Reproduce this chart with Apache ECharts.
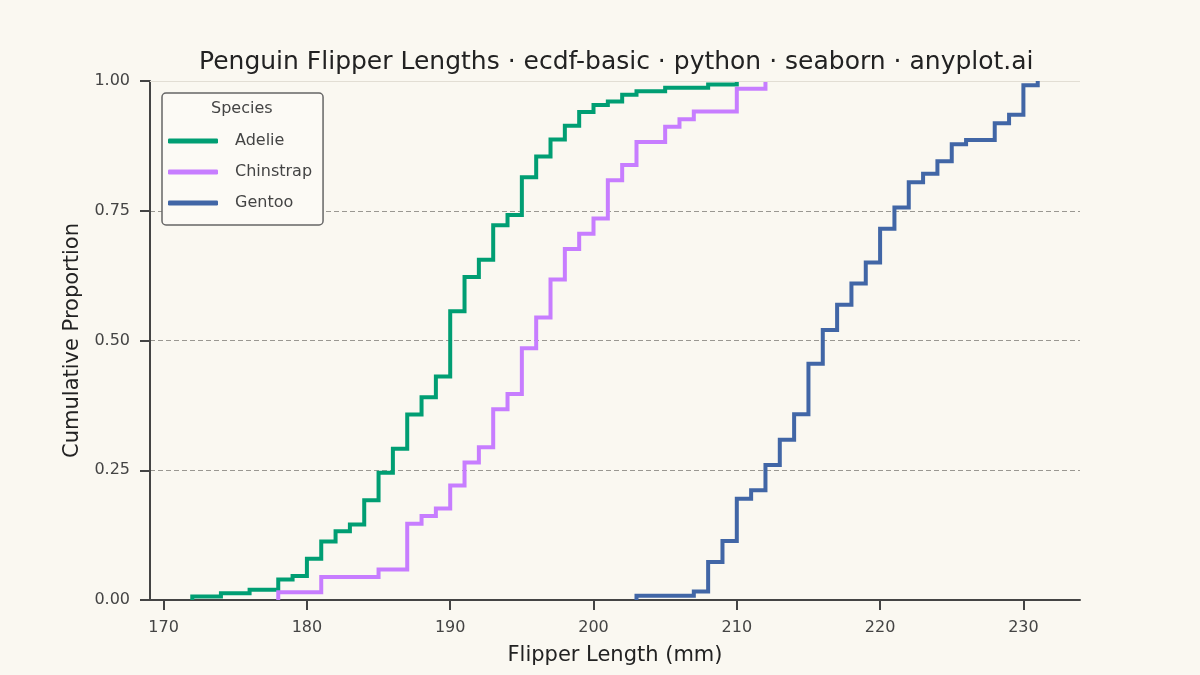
<!DOCTYPE html>
<html>
<head>
<meta charset="utf-8">
<script src="https://cdn.jsdelivr.net/npm/echarts@6/dist/echarts.min.js"></script>
<style>
html,body{margin:0;padding:0;background:#faf8f1;}
#c{width:1200px;height:675px;}
</style>
</head>
<body>
<div id="c"></div>
<script>
// ECDF step points: flipper length (mm) and cumulative proportion
const adelieX = [172,174,176,178,179,180,181,182,183,184,185,186,187,188,189,190,191,192,193,194,195,196,197,198,199,200,201,202,203,205,208,210];
const adelieY = [0.0066,0.0132,0.0199,0.0397,0.0464,0.0795,0.1126,0.1325,0.1457,0.1921,0.2450,0.2914,0.3576,0.3907,0.4305,0.5563,0.6225,0.6556,0.7219,0.7417,0.8146,0.8543,0.8874,0.9139,0.9404,0.9536,0.9603,0.9735,0.9801,0.9868,0.9934,1.0];
const chinstrapX = [178,181,185,187,188,189,190,191,192,193,194,195,196,197,198,199,200,201,202,203,205,206,207,210,212];
const chinstrapY = [0.0147,0.0441,0.0588,0.1471,0.1618,0.1765,0.2206,0.2647,0.2941,0.3676,0.3971,0.4853,0.5441,0.6176,0.6765,0.7059,0.7353,0.8088,0.8382,0.8824,0.9118,0.9265,0.9412,0.9853,1.0];
const gentooX = [203,207,208,209,210,211,212,213,214,215,216,217,218,219,220,221,222,223,224,225,226,228,229,230,231];
const gentooY = [0.0081,0.0163,0.0732,0.1138,0.1951,0.2114,0.2602,0.3089,0.3577,0.4553,0.5203,0.5691,0.6098,0.6504,0.7154,0.7561,0.8049,0.8211,0.8455,0.8780,0.8862,0.9187,0.9350,0.9919,1.0];
const speciesNames = ['Adelie','Chinstrap','Gentoo'];
const speciesColors = ['#009e73','#c77dff','#4166a6'];
const xTicks = [170,180,190,200,210,220,230];
const yTicks = [0,0.25,0.5,0.75,1.0];

function pts(xs, ys){
  const out = [[xs[0], 0]];
  for (let i = 0; i < xs.length; i++) out.push([xs[i], ys[i]]);
  return out;
}
const seriesData = [pts(adelieX, adelieY), pts(chinstrapX, chinstrapY), pts(gentooX, gentooY)];

const FONT = 'DejaVu Sans';
const chart = echarts.init(document.getElementById('c'), null, {renderer:'canvas'});
chart.setOption({
  backgroundColor: '#faf8f1',
  animation: false,
  textStyle: {fontFamily: FONT},
  title: {
    text: 'Penguin Flipper Lengths · ecdf-basic · python · seaborn · anyplot.ai',
    left: 194, top: 45,
    textStyle: {fontFamily: FONT, fontSize: 25, fontWeight: 'normal', color: '#222222'}
  },
  grid: {left: 150, right: 120, top: 81, bottom: 75, containLabel: false, outerBoundsMode: 'none'},
  xAxis: {
    type: 'value', min: 169.05, max: 233.95,
    name: 'Flipper Length (mm)', nameLocation: 'middle', nameGap: 45,
    nameTextStyle: {fontFamily: FONT, fontSize: 21, color: '#222222'},
    axisLine: {show: true, onZero: false, lineStyle: {color: '#444444', width: 2}},
    axisTick: {show: true, customValues: xTicks, length: 10, lineStyle: {color: '#444444', width: 2}},
    axisLabel: {customValues: xTicks, margin: 20, fontFamily: FONT, fontSize: 16, color: '#444444', formatter: v => String(Math.round(v))},
    splitLine: {show: false}
  },
  yAxis: {
    type: 'value', min: 0, max: 1, interval: 0.25,
    name: 'Cumulative Proportion', nameLocation: 'middle', nameGap: 64, nameRotate: 90,
    nameTextStyle: {fontFamily: FONT, fontSize: 21, color: '#222222'},
    axisLine: {show: true, lineStyle: {color: '#444444', width: 2}},
    axisTick: {show: true, length: 10, lineStyle: {color: '#444444', width: 2}},
    axisLabel: {margin: 20, fontFamily: FONT, fontSize: 16, color: '#444444', formatter: v => v.toFixed(2)},
    splitLine: {show: true, showMinLine: false, showMaxLine: false, lineStyle: {color: '#9a9892', width: 1.2, type: [5, 3]}},
  },
  legend: {
    data: speciesNames,
    orient: 'vertical', left: 162, top: 93,
    padding: [40, 11, 14, 6],
    itemGap: 15, itemWidth: 50, itemHeight: 5,
    icon: 'roundRect',
    backgroundColor: '#fcfaf5', borderColor: '#666666', borderWidth: 1.5, borderRadius: 4,
    textStyle: {fontFamily: FONT, fontSize: 16, color: '#444444', padding: [0, 0, 0, 12]}
  },
  graphic: [{
    type: 'text', left: 211, top: 101, z: 100,
    style: {text: 'Species', font: '16px "DejaVu Sans"', fill: '#444444'}
  }],
  series: speciesNames.map((n, i) => ({
    name: n, type: 'line', step: 'end', data: seriesData[i],
    showSymbol: false, symbol: 'none',
    lineStyle: {color: speciesColors[i], width: 4, join: 'miter'},
    itemStyle: {color: speciesColors[i]},
    z: 3 + i,
    markLine: i === 0 ? {
      silent: true, symbol: 'none', label: {show: false}, animation: false,
      lineStyle: {color: '#e2ded4', width: 1, type: 'solid'},
      data: [{yAxis: 1}]
    } : undefined
  }))
});
</script>
</body>
</html>
